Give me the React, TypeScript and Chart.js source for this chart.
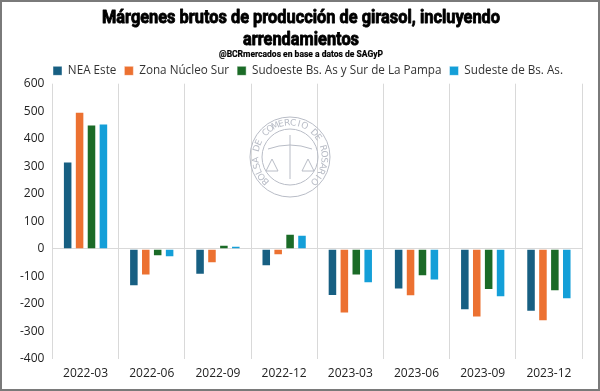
import React, { useEffect, useRef } from "react";
import { Chart, registerables } from "chart.js";
Chart.register(...registerables);

const categories = ["2022-03", "2022-06", "2022-09", "2022-12", "2023-03", "2023-06", "2023-09", "2023-12"];
const neaEste = [317, -136, -94, -63, -171, -148, -223, -228];
const zonaNucleoSur = [498, -97, -52, -23, -235, -172, -249, -263];
const sudoesteBsAs = [452, -27, 15, 55, -97, -99, -149, -154];
const sudesteBsAs = [455, -30, 11, 51, -125, -115, -176, -183];
const seriesNames = ["NEA Este", "Zona Núcleo Sur", "Sudoeste Bs. As y Sur de La Pampa", "Sudeste de Bs. As."];
const seriesColors = ["#175f82", "#ec7131", "#1b6b27", "#149fd8"];
const titleLines = ["Márgenes brutos de producción de girasol, incluyendo", "arrendamientos"];
const subtitleText = "@BCRmercados en base a datos de SAGyP";
const sealText = "BOLSA DE COMERCIO DE ROSARIO";

// Condensed heading drawn with horizontal scaling (no narrow font installed)
const headingPlugin = {
  id: "heading",
  afterDraw(chart: any) {
    const ctx = chart.ctx;
    const cx = 299; // canvas coords (canvas is offset by 2px border)
    const drawScaled = (text: string, y: number, font: string, scaleX: number, stroke: number) => {
      ctx.save();
      ctx.font = font;
      ctx.fillStyle = "#000";
      ctx.strokeStyle = "#000";
      ctx.lineWidth = stroke;
      ctx.lineJoin = "round";
      ctx.textAlign = "center";
      ctx.textBaseline = "middle";
      ctx.translate(cx, y);
      ctx.scale(scaleX, 1);
      ctx.fillText(text, 0, 0);
      if (stroke > 0) ctx.strokeText(text, 0, 0);
      ctx.restore();
    };
    const titleFont = "bold 19px Roboto";
    ctx.save();
    ctx.font = titleFont;
    const w1 = ctx.measureText(titleLines[0]).width;
    ctx.restore();
    const sx = 398 / w1;
    drawScaled(titleLines[0], 16.5, titleFont, sx, 0.9);
    drawScaled(titleLines[1], 38, titleFont, sx, 0.9);
    const subFont = "bold 9px Roboto";
    ctx.save();
    ctx.font = subFont;
    const w2 = ctx.measureText(subtitleText).width;
    ctx.restore();
    drawScaled(subtitleText, 52.5, subFont, 164 / w2, 0.2);
  },
};

const legendShiftPlugin = {
  id: "legendShift",
  beforeDraw(chart: any) {
    const lg = chart.legend;
    if (lg && !lg._shifted) {
      lg.left += 11;
      lg.right += 11;
      lg.top += 3;
      lg.bottom += 3;
      lg._shifted = true;
    }
  },
};

const sealPlugin = {
  id: "seal",
  beforeDatasetsDraw(chart: any) {
    const ctx = chart.ctx;
    const cx = 288, cy = 155;
    ctx.save();
    ctx.strokeStyle = "#b8bcc6";
    ctx.fillStyle = "#b8bcc6";
    ctx.lineWidth = 1;
    ctx.beginPath(); ctx.arc(cx, cy, 40, 0, Math.PI * 2); ctx.stroke();
    ctx.beginPath(); ctx.arc(cx, cy, 28, 0, Math.PI * 2); ctx.stroke();
    ctx.font = "9px 'DejaVu Sans'";
    ctx.textAlign = "center";
    ctx.textBaseline = "middle";
    const start = Math.PI * 0.75;
    const end = Math.PI * 2.25;
    const n = sealText.length;
    for (let i = 0; i < n; i++) {
      const a = start + ((end - start) * i) / (n - 1);
      ctx.save();
      ctx.translate(cx + Math.cos(a) * 34, cy + Math.sin(a) * 34);
      ctx.rotate(a + Math.PI / 2);
      ctx.fillText(sealText[i], 0, 0);
      ctx.restore();
    }
    ctx.beginPath();
    ctx.moveTo(cx, cy - 22); ctx.lineTo(cx, cy + 22);
    ctx.moveTo(cx - 22, cy - 8); ctx.quadraticCurveTo(cx, cy - 16, cx + 22, cy - 8);
    ctx.moveTo(cx - 18, cy + 2); ctx.lineTo(cx - 24, cy + 14); ctx.lineTo(cx - 12, cy + 14); ctx.closePath();
    ctx.moveTo(cx + 18, cy + 2); ctx.lineTo(cx + 12, cy + 14); ctx.lineTo(cx + 24, cy + 14); ctx.closePath();
    ctx.stroke();
    ctx.restore();
  },
};

export default function App() {
  const ref = useRef<HTMLCanvasElement>(null);
  useEffect(() => {
    document.body.style.margin = "0";
    const data = [neaEste, zonaNucleoSur, sudoesteBsAs, sudesteBsAs];
    const chart = new Chart(ref.current!, {
      type: "bar",
      data: {
        labels: categories,
        datasets: data.map((d, i) => ({
          label: seriesNames[i],
          data: d,
          backgroundColor: seriesColors[i],
          borderColor: "rgba(255,255,255,0.45)",
          borderWidth: 1,
          barPercentage: 0.8,
          categoryPercentage: 0.72,
        })),
      },
      plugins: [legendShiftPlugin, sealPlugin, headingPlugin],
      options: {
        animation: false,
        responsive: false,
        layout: { padding: { left: 10, right: 16, top: 52, bottom: 0 } },
        plugins: {
          title: { display: false },
          subtitle: { display: false },
          legend: {
            display: true,
            position: "top",
            labels: {
              color: "#333",
              boxWidth: 9,
              boxHeight: 9,
              padding: 8,
              font: { family: "'Open Sans'", size: 11.7 },
            },
          },
          tooltip: { enabled: false },
        },
        scales: {
          x: {
            grid: { display: true, offset: true, color: "#d9d9d9", drawTicks: false },
            border: { display: false },
            ticks: { color: "#222", font: { family: "'Open Sans'", size: 12, lineHeight: 1 }, padding: 9 },
          },
          y: {
            min: -400,
            max: 600,
            ticks: { stepSize: 100, color: "#222", font: { family: "'Open Sans'", size: 12 }, padding: 8 },
            grid: {
              drawTicks: false,
              color: (c: any) => (c.tick && c.tick.value === 0 ? "#d9d9d9" : "rgba(0,0,0,0)"),
            },
            border: { display: false },
          },
        },
      },
    });
    return () => chart.destroy();
  }, []);
  return (
    <div style={{ width: 600, height: 391, boxSizing: "border-box", border: "2px solid #7a7a7a", background: "#fff", position: "relative" }}>
      <canvas ref={ref} width={596} height={387} style={{ display: "block" }} />
    </div>
  );
}
